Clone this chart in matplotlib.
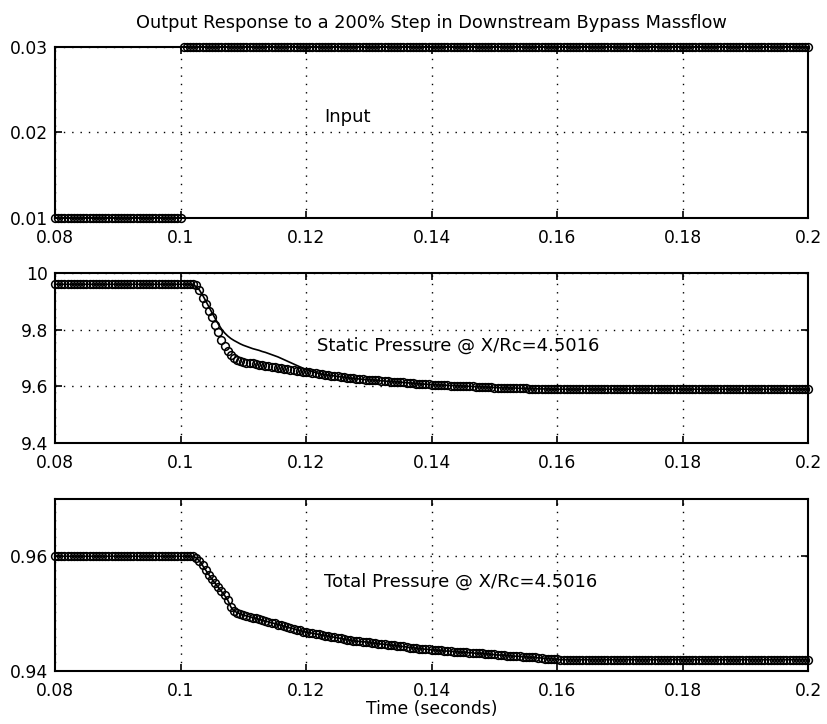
import numpy as np
import matplotlib.pyplot as plt

plt.rcParams['font.family'] = ['DejaVu Sans']

# time base, 0.5 ms samples
t = np.linspace(0.08, 0.2, 241)

# bypass massflow input step
inp = [0.01] * 41 + [0.03] * 200

# static pressure, circles (samples 45..160)
static_drop = [
    9.958, 9.940, 9.912, 9.890, 9.865, 9.843, 9.818, 9.790, 9.765, 9.742,
    9.725, 9.711, 9.700, 9.693, 9.689, 9.686,
    9.684, 9.682, 9.681, 9.679, 9.677, 9.675, 9.673, 9.672, 9.670, 9.668,
    9.666, 9.664, 9.663, 9.661, 9.659, 9.657, 9.655, 9.654, 9.652, 9.650,
    9.649, 9.647, 9.646, 9.644, 9.643, 9.641, 9.640, 9.638, 9.637, 9.635,
    9.634, 9.632, 9.631, 9.629, 9.628,
    9.627, 9.626, 9.625, 9.624, 9.624, 9.623, 9.622, 9.621, 9.620, 9.619,
    9.618, 9.617, 9.616, 9.616, 9.615, 9.614, 9.613, 9.612, 9.611, 9.610,
    9.609, 9.608, 9.608, 9.607, 9.606,
    9.606, 9.605, 9.605, 9.604, 9.604, 9.603, 9.603, 9.602, 9.602, 9.601,
    9.601, 9.600, 9.600, 9.599, 9.599, 9.598, 9.598, 9.597, 9.597, 9.596,
    9.596, 9.595, 9.595, 9.595, 9.594, 9.594, 9.594, 9.593, 9.593, 9.593,
    9.592, 9.592, 9.592, 9.591, 9.591, 9.591, 9.591, 9.590, 9.590, 9.590,
]
static_pts = [9.96] * 45 + static_drop
static_pts += [9.59] * (len(t) - len(static_pts))

# static pressure, solid curve (samples 44..84), same as circles afterwards
static_curve_drop = [
    9.958, 9.952, 9.940, 9.922, 9.902, 9.881, 9.860, 9.840, 9.820, 9.803,
    9.789, 9.778, 9.769, 9.762, 9.756, 9.750, 9.745, 9.741, 9.737, 9.733,
    9.730, 9.727, 9.723, 9.720, 9.716, 9.712, 9.708, 9.704, 9.699, 9.694,
    9.689, 9.684, 9.679, 9.674, 9.669, 9.664, 9.660, 9.656, 9.652, 9.649,
    9.646,
]
static_line = [9.96] * 44 + static_curve_drop
static_line += static_pts[len(static_line):]

# total pressure (samples 44..160)
total_drop = [
    0.9600, 0.9597, 0.9592, 0.9584, 0.9576, 0.9568, 0.9560, 0.9553, 0.9546,
    0.9539, 0.9532, 0.9524, 0.9512, 0.9505, 0.9502, 0.9500, 0.9498,
    0.9496, 0.9495, 0.9493, 0.9492, 0.9490, 0.9489, 0.9487, 0.9486, 0.9484,
    0.9483, 0.9481, 0.9480, 0.9478, 0.9477, 0.9475, 0.9474, 0.9472, 0.9471,
    0.9469, 0.9468,
    0.9467, 0.9466, 0.9465, 0.9464, 0.9463, 0.9462, 0.9461, 0.9460, 0.9459,
    0.9458, 0.9457, 0.9456, 0.9455, 0.9454, 0.9453, 0.9452, 0.9452, 0.9451,
    0.9451, 0.9450,
    0.9449, 0.9449, 0.9448, 0.9447, 0.9447, 0.9446, 0.9445, 0.9445, 0.9444,
    0.9443, 0.9443, 0.9442, 0.9441, 0.9441, 0.9440, 0.9439, 0.9439, 0.9438,
    0.9438, 0.9437,
    0.9437, 0.9436, 0.9436, 0.9435, 0.9435, 0.9435, 0.9434, 0.9434, 0.9433,
    0.9433, 0.9433, 0.9432, 0.9432, 0.9431, 0.9431, 0.9431, 0.9430, 0.9430,
    0.9429, 0.9429, 0.9428, 0.9428, 0.9428, 0.9427, 0.9427, 0.9426, 0.9426,
    0.9426, 0.9425, 0.9425, 0.9424, 0.9424, 0.9424, 0.9423, 0.9423, 0.9422,
    0.9422, 0.9422, 0.9421, 0.9421,
]
total = [0.96] * 44 + total_drop
total += [0.942] * (len(t) - len(total))

xticks = [0.08, 0.1, 0.12, 0.14, 0.16, 0.18, 0.2]
xticklabels = ['0.08', '0.1', '0.12', '0.14', '0.16', '0.18', '0.2']

fs = 12.3
fs_note = 13

fig = plt.figure(figsize=(8.27, 7.24), dpi=100)
ax1 = fig.add_axes([0.0665, 0.699, 0.911, 0.236])
ax2 = fig.add_axes([0.0665, 0.388, 0.911, 0.235])
ax3 = fig.add_axes([0.0665, 0.073, 0.911, 0.238])

mk = dict(marker='o', ms=5.6, mfc='none', mec='k', mew=1.1, ls='none',
          clip_on=False, zorder=3)

ax1.plot(t, inp, **mk)
ax1.set_ylim(0.01, 0.03)
ax1.set_yticks([0.01, 0.02, 0.03])
ax1.set_yticklabels(['0.01', '0.02', '0.03'])
ax1.text(0.1229, 0.0218, 'Input', fontsize=fs_note, va='center')
ax1.set_title('Output Response to a 200% Step in Downstream Bypass Massflow',
              fontsize=12.8, pad=14)

ax2.plot(t, static_line, color='k', lw=1.2)
ax2.plot(t, static_pts, **mk)
ax2.set_ylim(9.4, 10)
ax2.set_yticks([9.4, 9.6, 9.8, 10])
ax2.set_yticklabels(['9.4', '9.6', '9.8', '10'])
ax2.text(0.1218, 9.742, 'Static Pressure @ X/Rc=4.5016', fontsize=fs_note, va='center')

ax3.plot(t, total, color='k', lw=1.2)
ax3.plot(t, total, **mk)
ax3.set_ylim(0.94, 0.97)
ax3.set_yticks([0.94, 0.96])
ax3.set_yticklabels(['0.94', '0.96'])
ax3.text(0.1229, 0.9555, 'Total Pressure @ X/Rc=4.5016', fontsize=fs_note, va='center')
ax3.set_xlabel('Time (seconds)', fontsize=fs, labelpad=0)

for ax in (ax1, ax2, ax3):
    ax.set_xlim(0.08, 0.2)
    ax.set_xticks(xticks)
    ax.set_xticklabels(xticklabels)
    ax.grid(True, color='k', ls=(0, (1, 5)), lw=1.0)
    ax.tick_params(direction='in', top=True, right=True, length=5, width=1.2,
                   labelsize=fs)
    ax.tick_params(axis='x', pad=8)
    ax.tick_params(axis='y', pad=5)
    for s in ax.spines.values():
        s.set_linewidth(1.5)

fig.savefig('out.png', dpi=100)
